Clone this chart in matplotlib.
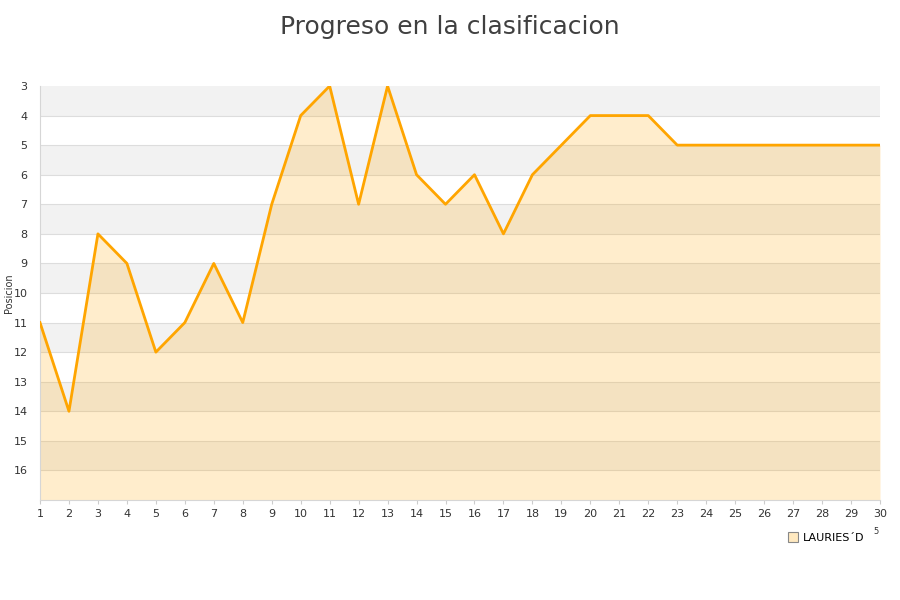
import matplotlib
matplotlib.use("Agg")
import matplotlib.pyplot as plt
from matplotlib.lines import Line2D

jornadas = list(range(1, 31))
posiciones = [11, 14, 8, 9, 12, 11, 9, 11, 7, 4, 3, 7, 3, 6, 7, 6, 8, 6, 5, 4,
              4, 4, 5, 5, 5, 5, 5, 5, 5, 5]
equipo = "LAURIES´D"
y_ticks = list(range(3, 17))

fig = plt.figure(figsize=(9, 6), dpi=100)
ax = fig.add_axes([40/900, 1-500/600, 840/900, 414/600])

# alternating bands
for k in range(3, 17):
    if (k - 3) % 2 == 0:
        ax.axhspan(k, k+1, color="#f2f2f2", zorder=0, lw=0)
for k in range(4, 17):
    ax.axhline(k, color="#dddddd", lw=0.8, zorder=1)

ax.fill_between(jornadas, posiciones, 17, color="#FFA500", alpha=0.2, lw=0, zorder=2)
ax.plot(jornadas, posiciones, color="#FFA500", lw=2.0, zorder=3)

ax.set_xlim(1, 30)
ax.set_ylim(17, 3)
ax.set_xticks(jornadas)
ax.set_yticks(y_ticks)
ax.tick_params(axis="both", labelsize=8, colors="#333333", length=3, color="#cccccc")
ax.tick_params(axis="y", length=0, pad=9)
for s in ["top", "right"]:
    ax.spines[s].set_visible(False)
for s in ["left", "bottom"]:
    ax.spines[s].set_color("#d6d6d6")
fig.text(9/900, 1-293/600, "Posicion", fontsize=7, color="#333333",
         rotation=90, ha="center", va="center")

fig.text(0.5, 0.975, "Progreso en la clasificacion", ha="center", va="top",
         fontsize=18, color="#404040")

handle = Line2D([], [], marker="s", ls="none", markersize=6.5,
                markerfacecolor="#ffe9c0", markeredgecolor="#888888", markeredgewidth=0.8)
fig.legend([handle], [equipo], loc="center left", bbox_to_anchor=(782/900, 1-538/600),
           frameon=False, fontsize=8, handletextpad=0.4, borderpad=0, handlelength=1)
fig.text(876/900, 1-532/600, "5", fontsize=6, color="#333333", ha="center", va="center")

fig.savefig("out.png", dpi=100)
